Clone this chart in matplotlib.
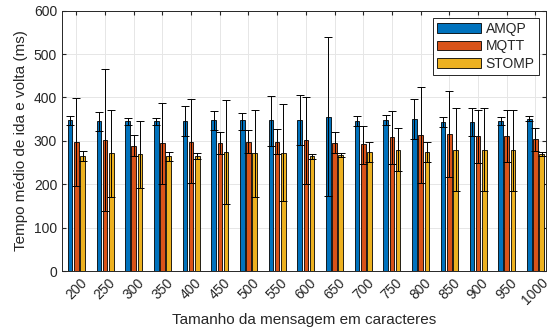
import numpy as np
import matplotlib.pyplot as plt

plt.rcParams['font.family'] = ['Liberation Sans', 'DejaVu Sans']

# Dados
tamanhos = [200, 250, 300, 350, 400, 450, 500, 550, 600, 650, 700, 750, 800, 850, 900, 950, 1000]

amqp = [347, 346, 346, 346, 346, 347, 347, 347, 348, 356, 346, 348, 351, 343, 343, 346, 351]
amqp_sup = [357, 366, 353, 352, 381, 369, 364, 403, 406, 539, 357, 359, 397, 355, 375, 355, 357]
amqp_inf = [336, 323, 336, 336, 311, 325, 325, 289, 291, 172, 334, 336, 304, 332, 311, 336, 345]

mqtt = [298, 302, 289, 295, 298, 295, 298, 298, 302, 296, 292, 308, 314, 315, 311, 311, 304]
mqtt_sup = [398, 465, 313, 388, 397, 321, 324, 328, 401, 321, 334, 369, 424, 415, 370, 371, 330]
mqtt_inf = [195, 139, 266, 201, 202, 269, 271, 269, 201, 271, 247, 247, 203, 216, 249, 251, 276]

stomp = [266, 271, 269, 265, 266, 274, 271, 271, 264, 267, 274, 279, 275, 278, 278, 278, 269]
stomp_sup = [277, 371, 345, 275, 271, 394, 371, 384, 270, 271, 298, 329, 297, 375, 375, 371, 275]
stomp_inf = [254, 171, 191, 253, 258, 155, 171, 161, 258, 262, 251, 230, 251, 184, 184, 184, 265]

series = [
    ('AMQP', amqp, amqp_sup, amqp_inf, '#0072BD'),
    ('MQTT', mqtt, mqtt_sup, mqtt_inf, '#D95319'),
    ('STOMP', stomp, stomp_sup, stomp_inf, '#EDB120'),
]

fig = plt.figure(figsize=(5.51, 3.35), dpi=100)
ax = fig.add_axes([0.1125, 0.191, 0.878, 0.777])

x = np.array(tamanhos, dtype=float)
largura = 8
deslocamentos = [-10.8, 0, 10.8]

for (nome, media, sup, inf, cor), d in zip(series, deslocamentos):
    media = np.array(media)
    erro = [media - np.array(inf), np.array(sup) - media]
    ax.bar(x + d, media, width=largura, color=cor, edgecolor='black',
           linewidth=0.6, label=nome, zorder=2)
    ax.errorbar(x + d, media, yerr=erro, fmt='none', ecolor='black',
                elinewidth=0.7, capsize=3, capthick=0.7, zorder=3)

ax.set_xlim(175, 1018)
ax.set_ylim(0, 600)
ax.set_xticks(tamanhos)
ax.set_xticklabels([str(t) for t in tamanhos], rotation=45, fontsize=10)
ax.set_yticks(range(0, 601, 100))
ax.tick_params(axis='y', labelsize=10)
ax.tick_params(direction='in', top=True, right=True, length=3, color='#262626',
               labelcolor='#262626')
ax.grid(True, color='#e6e6e6', linewidth=0.7, zorder=0)
ax.set_axisbelow(True)
for s in ax.spines.values():
    s.set_color('#262626')
    s.set_linewidth(0.7)

ax.set_xlabel('Tamanho da mensagem em caracteres', fontsize=11, color='#262626')
ax.set_ylabel('Tempo médio de ida e volta (ms)', fontsize=11, color='#262626')

leg = ax.legend(loc='upper right', fontsize=10, fancybox=False, framealpha=1,
                edgecolor='#262626', handlelength=3.2, borderpad=0.3,
                labelspacing=0.25, handletextpad=0.3, borderaxespad=0.5)
leg.get_frame().set_linewidth(0.7)
for t in leg.get_texts():
    t.set_color('#262626')

fig.savefig('out.png', dpi=100)
